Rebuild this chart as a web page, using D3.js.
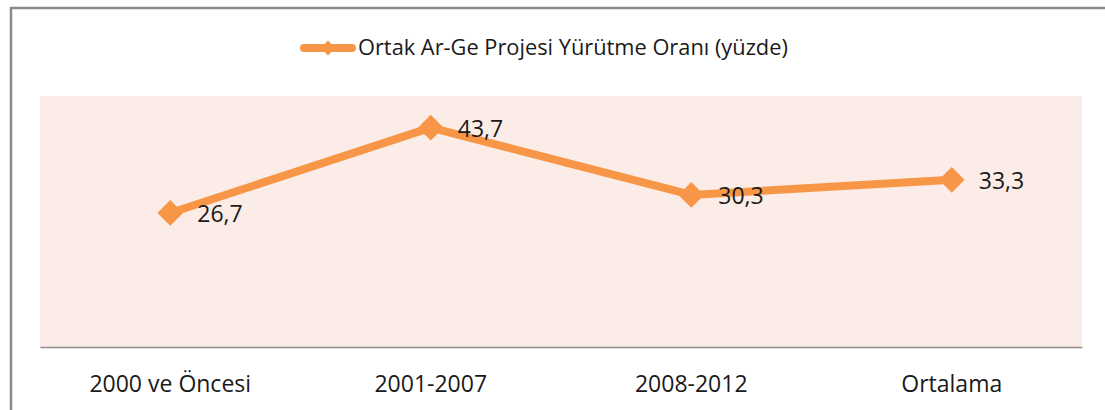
<!DOCTYPE html>
<html>
<head>
<meta charset="utf-8">
<script src="https://cdn.jsdelivr.net/npm/d3@7"></script>
<style>
  html, body { margin: 0; padding: 0; background: #fff; }
  svg { display: block; }
</style>
</head>
<body>
<div id="chart"></div>
<script>
// chart data
const categories = ['2000 ve Öncesi', '2001-2007', '2008-2012', 'Ortalama'];
const values = [26.7, 43.7, 30.3, 33.3];
const valueLabels = ['26,7', '43,7', '30,3', '33,3'];
const seriesName = 'Ortak Ar-Ge Projesi Yürütme Oranı (yüzde)';
const yDomain = [0, 50];

const width = 1105, height = 410;
const plot = { left: 40, right: 1082, top: 96, bottom: 347 };
const orange = '#F79646';
const font = "'Open Sans', sans-serif";

const svg = d3.select('#chart').append('svg')
  .attr('width', width)
  .attr('height', height);

// outer frame (runs off the right and bottom edge)
svg.append('rect')
  .attr('x', 11).attr('y', 8)
  .attr('width', 1200).attr('height', 600)
  .attr('fill', 'none')
  .attr('stroke', '#8a8a8a')
  .attr('stroke-width', 2.5);

// plot background
svg.append('rect')
  .attr('x', plot.left).attr('y', plot.top)
  .attr('width', plot.right - plot.left)
  .attr('height', plot.bottom - plot.top)
  .attr('fill', '#FBECE7');

const xScale = d3.scaleBand().domain(categories).range([plot.left, plot.right]);
const yScale = d3.scaleLinear().domain(yDomain).range([plot.bottom, plot.top]);
const cx = c => xScale(c) + xScale.bandwidth() / 2;

// category axis
const xAxis = svg.append('g')
  .attr('transform', `translate(0, ${plot.bottom})`)
  .call(d3.axisBottom(xScale).tickSize(0).tickPadding(0));
xAxis.select('.domain').attr('stroke', '#8f8f8f').attr('stroke-width', 1.5);
xAxis.selectAll('text')
  .attr('y', 45)
  .attr('dy', 0)
  .style('font-family', font)
  .style('font-size', '23px')
  .style('fill', '#1a1a1a');

const data = categories.map((c, i) => ({ cat: c, value: values[i], label: valueLabels[i] }));

// series line
svg.append('path')
  .datum(data)
  .attr('fill', 'none')
  .attr('stroke', orange)
  .attr('stroke-width', 8)
  .attr('stroke-linejoin', 'round')
  .attr('d', d3.line().x(d => cx(d.cat)).y(d => yScale(d.value)));

// diamond markers
const diamond = d3.symbol().type(d3.symbolSquare).size(330);
svg.selectAll('.marker')
  .data(data)
  .enter().append('path')
  .attr('class', 'marker')
  .attr('d', diamond)
  .attr('fill', orange)
  .attr('transform', d => `translate(${cx(d.cat)}, ${yScale(d.value)}) rotate(45)`);

// value labels
svg.selectAll('.vlabel')
  .data(data)
  .enter().append('text')
  .attr('class', 'vlabel')
  .attr('x', d => cx(d.cat) + 27)
  .attr('y', d => yScale(d.value) + 9)
  .text(d => d.label)
  .style('font-family', font)
  .style('font-size', '23px')
  .style('fill', '#1a1a1a');

// legend
const legend = svg.append('g').attr('transform', 'translate(300, 48)');
legend.append('line')
  .attr('x1', 4).attr('x2', 52)
  .attr('stroke', orange)
  .attr('stroke-width', 8)
  .attr('stroke-linecap', 'round');
legend.append('path')
  .attr('d', d3.symbol().type(d3.symbolSquare).size(110))
  .attr('fill', orange)
  .attr('transform', 'translate(28, 0) rotate(45)');
legend.append('text')
  .attr('x', 58)
  .attr('y', 7)
  .text(seriesName)
  .style('font-family', font)
  .style('font-size', '21.8px')
  .style('fill', '#1a1a1a');
</script>
</body>
</html>
